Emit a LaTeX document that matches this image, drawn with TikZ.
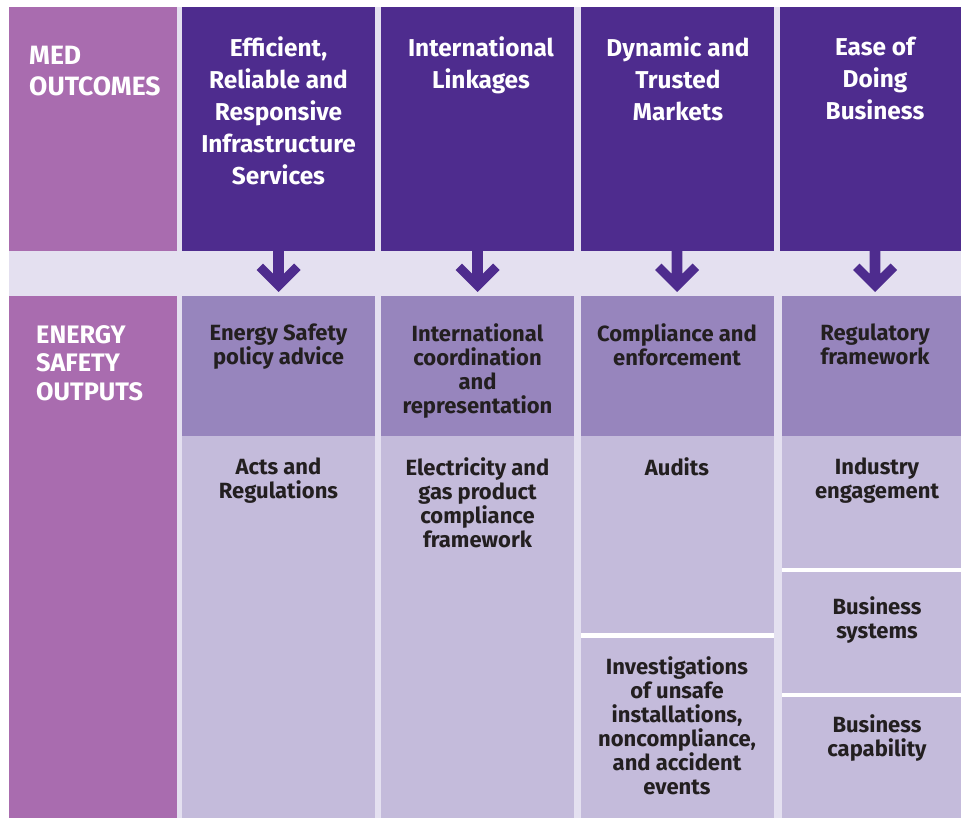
\documentclass[tikz,border=0pt]{standalone}
\usepackage{fontspec}
\setmainfont{Fira Sans}

\definecolor{deep}{HTML}{4E2C8E}
\definecolor{mauve}{HTML}{A96CAF}
\definecolor{band}{HTML}{E4E0F0}
\definecolor{midpurple}{HTML}{9785BD}
\definecolor{pale}{HTML}{C4BBDB}
\definecolor{ink}{HTML}{231F20}

\tikzset{
  cell/.style={rectangle, inner sep=0pt, outer sep=0pt, anchor=north west, draw=none},
  outcome/.style={cell, fill=deep},
  side/.style={cell, fill=mauve},
  head/.style={cell, fill=midpurple},
  body/.style={cell, fill=pale},
  rule/.style={cell, fill=white},
  toptext/.style={anchor=north, align=center, inner sep=0pt, text=white,
    font=\fontsize{24.4}{32}\selectfont\bfseries},
  sidetext/.style={anchor=north west, align=left, inner sep=0pt, text=white},
  bottext/.style={anchor=north, align=center, inner sep=0pt, text=ink,
    font=\fontsize{22}{24}\selectfont\bfseries},
  downarrow/.pic={
    \fill[deep] (-5.3,-1) -- (-5.3,23.2) -- (-15.6,12.9) -- (-22,19.3) -- (0,41.3)
      -- (22,19.3) -- (15.6,12.9) -- (5.3,23.2) -- (5.3,-1) -- cycle;
  }
}

\begin{document}
\begin{tikzpicture}[x=1pt,y=-1pt]
\useasboundingbox (0,0) rectangle (961,818);
\clip (0,0) rectangle (961,818);
\fill[white] (0,0) rectangle (961,818);
\fill[band] (9,7.5) rectangle (970,818);

% side column
\node[side, minimum width=168pt, minimum height=243.2pt] (medside) at (9,7.5) {};
\node[side, minimum width=168pt, minimum height=522.3pt] (esside) at (9,295.7) {};

% MED outcomes
\node[outcome, minimum width=193pt, minimum height=243.2pt] (o1) at (182,7.5) {};
\node[outcome, minimum width=193pt, minimum height=243.2pt] (o2) at (381,7.5) {};
\node[outcome, minimum width=193pt, minimum height=243.2pt] (o3) at (580.5,7.5) {};
\node[outcome, minimum width=190pt, minimum height=243.2pt] (o4) at (780,7.5) {};

% output headers
\node[head, minimum width=193pt, minimum height=140pt] (h1) at (182,295.7) {};
\node[head, minimum width=193pt, minimum height=140pt] (h2) at (381,295.7) {};
\node[head, minimum width=193pt, minimum height=140pt] (h3) at (580.5,295.7) {};
\node[head, minimum width=188pt, minimum height=140pt] (h4) at (782,295.7) {};

% output bodies
\node[body, minimum width=193pt, minimum height=382.3pt] (b1) at (182,435.7) {};
\node[body, minimum width=193pt, minimum height=382.3pt] (b2) at (381,435.7) {};
\node[body, minimum width=193pt, minimum height=197.6pt] (b3a) at (580.5,435.7) {};
\node[rule, minimum width=193pt, minimum height=4.4pt] (r3) at (580.5,633.3) {};
\node[body, minimum width=193pt, minimum height=180.3pt] (b3b) at (580.5,637.7) {};
\node[body, minimum width=188pt, minimum height=132.6pt] (b4a) at (782,435.7) {};
\node[rule, minimum width=188pt, minimum height=4pt] (r4a) at (782,568.3) {};
\node[body, minimum width=188pt, minimum height=120.4pt] (b4b) at (782,572.3) {};
\node[rule, minimum width=188pt, minimum height=4pt] (r4b) at (782,692.7) {};
\node[body, minimum width=188pt, minimum height=121.3pt] (b4c) at (782,696.7) {};

% arrows from outcomes to outputs
\pic at (o1.south) {downarrow};
\pic at (o2.south) {downarrow};
\pic at (o3.south) {downarrow};
\pic at (o4.south) {downarrow};

% side labels
\node[sidetext, font=\fontsize{26.5}{31}\selectfont\bfseries] (medlbl) at (29,45.5) {MED\\OUTCOMES};
\node[sidetext, font=\fontsize{25.3}{28.3}\selectfont\bfseries] (eslbl) at (36,325.5) {ENERGY\\SAFETY\\OUTPUTS};

% outcome labels
\node[toptext] (t1) at (278.5,36.5) {Efficient,\\Reliable and\\Responsive\\Infrastructure\\Services};
\node[toptext] (t2) at (481,36.5) {International\\Linkages};
\node[toptext] (t3) at (678,36.5) {Dynamic and\\Trusted\\Markets};
\node[toptext] (t4) at (875,36.5) {Ease of\\Doing\\Business};

% output labels
\node[bottext] (p1) at (278.5,323.5) {Energy Safety\\policy advice};
\node[bottext] (p2) at (477.5,323.5) {International\\coordination\\and\\representation};
\node[bottext] (p3) at (677,323.5) {Compliance and\\enforcement};
\node[bottext] (p4) at (875,323.5) {Regulatory\\framework};

\node[bottext] (q1) at (278.5,457.5) {Acts and\\Regulations};
\node[bottext] (q2) at (477.5,457.5) {Electricity and\\gas product\\compliance\\framework};
\node[bottext] (q3) at (677,457.5) {Audits};
\node[bottext] (q4) at (877,457.5) {Industry\\engagement};

\node[bottext] (s3) at (677,656) {Investigations\\of unsafe\\installations,\\noncompliance,\\and accident\\events};
\node[bottext] (s4) at (877,596.5) {Business\\systems};
\node[bottext] (u4) at (877,714) {Business\\capability};
\end{tikzpicture}
\end{document}
